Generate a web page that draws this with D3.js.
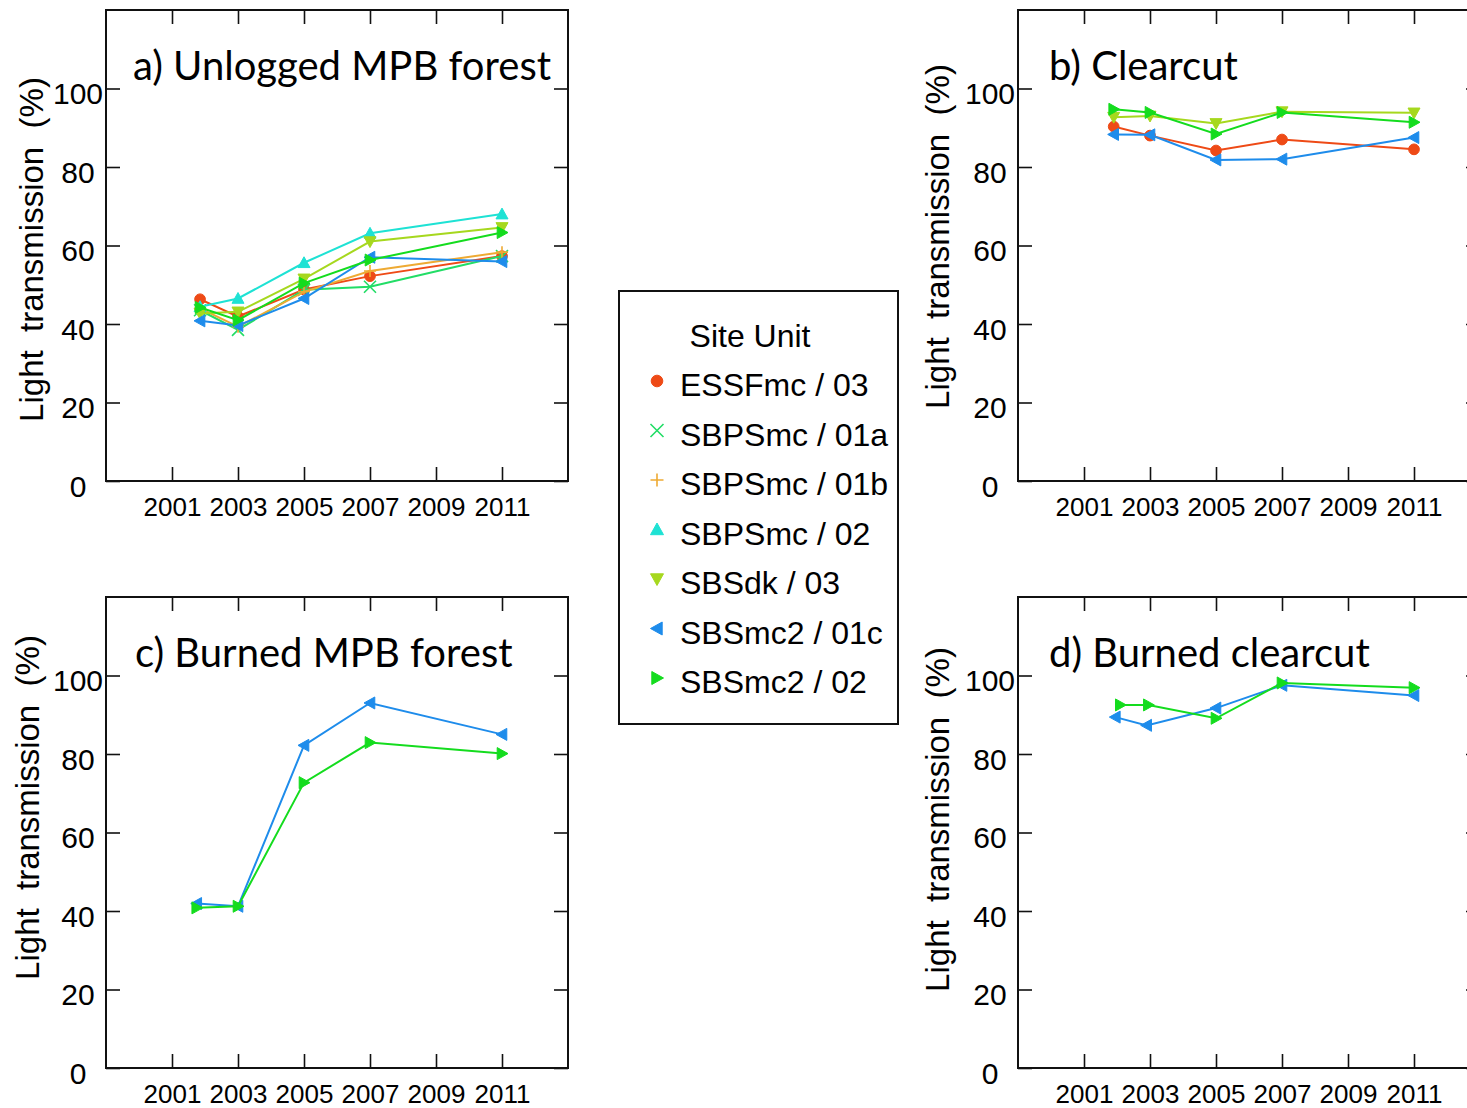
<!DOCTYPE html>
<html>
<head>
<meta charset="utf-8">
<script src="https://cdn.jsdelivr.net/npm/d3@7"></script>
<style>
  html, body { margin: 0; padding: 0; background: #fff; }
  svg { display: block; }
  text { font-family: "Liberation Sans", Arial, sans-serif; fill: #000; }
  .ptitle { font-family: Lato, "Open Sans", sans-serif; }
</style>
</head>
<body>
<svg id="chart" width="1467" height="1108"></svg>
<script>
// ---- site units (legend order), colours and marker shapes ----
const siteUnits   = ["ESSFmc / 03", "SBPSmc / 01a", "SBPSmc / 01b", "SBPSmc / 02", "SBSdk / 03", "SBSmc2 / 01c", "SBSmc2 / 02"];
const siteColors  = ["#ee4a16", "#22dd66", "#eeaa33", "#1ee2d4", "#a6d81e", "#1e8ceb", "#14dc1e"];
const siteSymbols = ["circle", "cross", "plus", "triUp", "triDown", "triLeft", "triRight"];

// ---- axis ticks ----
const yearTicks = [2001, 2003, 2005, 2007, 2009, 2011];
const lightTicks = [0, 20, 40, 60, 80, 100];

// ---- a) Unlogged MPB forest ----
const unloggedYears = [2001.85, 2003, 2005, 2007, 2011];
const unloggedUnits = ["ESSFmc / 03", "SBPSmc / 01a", "SBPSmc / 01b", "SBPSmc / 02", "SBSdk / 03", "SBSmc2 / 01c", "SBSmc2 / 02"];
const unloggedValues = [
  [46.3, 41.9, 48.8, 52.2, 57.3],
  [43.5, 38.5, 48.7, 49.5, 57.3],
  [44.0, 39.3, 48.2, 53.5, 58.3],
  [44.4, 46.5, 55.6, 63.1, 68.0],
  [42.7, 43.1, 51.5, 61.0, 64.6],
  [40.8, 39.6, 46.5, 57.0, 55.9],
  [44.2, 41.0, 50.4, 56.3, 63.3]
];

// ---- b) Clearcut ----
const clearcutYears = [2001.9, 2003, 2005, 2007, 2011];
const clearcutUnits = ["ESSFmc / 03", "SBSdk / 03", "SBSmc2 / 01c", "SBSmc2 / 02"];
const clearcutValues = [
  [90.3, 88.0, 84.2, 87.0, 84.5],
  [92.7, 93.0, 91.1, 94.1, 93.8],
  [88.3, 88.2, 81.8, 82.0, 87.5],
  [94.7, 93.9, 88.4, 93.9, 91.4]
];

// ---- c) Burned MPB forest ----
const burnedYears = [2001.75, 2003, 2005, 2007, 2011];
const burnedUnits = ["SBSmc2 / 01c", "SBSmc2 / 02"];
const burnedValues = [
  [41.9, 41.2, 82.2, 93.0, 85.0],
  [40.8, 41.2, 72.7, 82.9, 80.1]
];

// ---- d) Burned clearcut ----
const burnedClearcutYears = [[2001.95, 2002.9, 2005, 2007, 2011], [2002.1, 2002.95, 2005, 2007, 2011]];
const burnedClearcutUnits = ["SBSmc2 / 01c", "SBSmc2 / 02"];
const burnedClearcutValues = [
  [89.4, 87.3, 91.7, 97.5, 94.9],
  [92.5, 92.5, 89.1, 98.1, 96.9]
];

// ---- layout ----
const plotW = 462, plotH = 471;
const panels = [
  { title: "a) Unlogged MPB forest", left: 106, top: 10,  units: unloggedUnits, values: unloggedValues,
    years: unloggedUnits.map(() => unloggedYears), titleDx: 27, ylabDx: -75, ylabDy: 4 },
  { title: "b) Clearcut", left: 1018, top: 10, units: clearcutUnits, values: clearcutValues,
    years: clearcutUnits.map(() => clearcutYears), titleDx: 31, ylabDx: -81, ylabDy: -9 },
  { title: "c) Burned MPB forest", left: 106, top: 597, units: burnedUnits, values: burnedValues,
    years: burnedUnits.map(() => burnedYears), titleDx: 29, ylabDx: -79, ylabDy: -25 },
  { title: "d) Burned clearcut", left: 1018, top: 597, units: burnedClearcutUnits, values: burnedClearcutValues,
    years: burnedClearcutYears, titleDx: 31, ylabDx: -81, ylabDy: -13 }
];

const svg = d3.select("#chart");

// marker path generator; s = nominal marker width in px
function markerPath(kind, s) {
  const h = s / 2;
  switch (kind) {
    case "circle":   return d3.symbol(d3.symbolCircle, Math.PI * h * h * 0.8)();
    case "cross":    return `M${-h},${-h}L${h},${h}M${-h},${h}L${h},${-h}`;
    case "plus":     return `M${-h},0L${h},0M0,${-h}L0,${h}`;
    case "triUp":    return `M0,${-h}L${h},${h * 0.8}L${-h},${h * 0.8}Z`;
    case "triDown":  return `M0,${h}L${h},${-h * 0.8}L${-h},${-h * 0.8}Z`;
    case "triLeft":  return `M${-h},0L${h * 0.8},${-h}L${h * 0.8},${h}Z`;
    case "triRight": return `M${h},0L${-h * 0.8},${-h}L${-h * 0.8},${h}Z`;
  }
}
function drawMarker(sel, kind, color, s) {
  const open = kind === "cross" || kind === "plus";
  sel.append("path")
    .attr("d", markerPath(kind, s))
    .attr("fill", open ? "none" : color)
    .attr("stroke", color)
    .attr("stroke-width", open ? 1.6 : 1);
}

panels.forEach(p => {
  const x = d3.scaleLinear().domain([1999, 2013]).range([p.left, p.left + plotW]);
  const y = d3.scaleLinear().domain([0, 120]).range([p.top + plotH, p.top]);
  const g = svg.append("g");
  const tickLen = 14;

  // inward ticks on all four sides
  g.append("g").attr("transform", `translate(0,${p.top + plotH})`)
    .call(d3.axisBottom(x).tickValues(yearTicks).tickSize(-tickLen).tickFormat(d3.format("d")))
    .call(a => { a.select(".domain").remove(); a.selectAll("line").attr("stroke", "#111").attr("stroke-width", 1.6);
      a.selectAll("text").attr("y", 35).attr("dy", 0).attr("font-size", 26)
        .style("font-family", "'Liberation Sans', Arial, sans-serif").attr("fill", "#000"); });
  g.append("g").attr("transform", `translate(0,${p.top})`)
    .call(d3.axisTop(x).tickValues(yearTicks).tickSize(-tickLen).tickFormat(""))
    .call(a => { a.select(".domain").remove(); a.selectAll("line").attr("stroke", "#111").attr("stroke-width", 1.6); });
  g.append("g").attr("transform", `translate(${p.left},0)`)
    .call(d3.axisLeft(y).tickValues(lightTicks).tickSize(-tickLen).tickFormat(d3.format("d")))
    .call(a => { a.select(".domain").remove(); a.selectAll("line").attr("stroke", "#111").attr("stroke-width", 1.6);
      a.selectAll("text").attr("x", -28).attr("dy", 15).attr("text-anchor", "middle").attr("font-size", 30)
        .style("font-family", "'Liberation Sans', Arial, sans-serif").attr("fill", "#000"); });
  g.append("g").attr("transform", `translate(${p.left + plotW},0)`)
    .call(d3.axisRight(y).tickValues(lightTicks).tickSize(-tickLen).tickFormat(""))
    .call(a => { a.select(".domain").remove(); a.selectAll("line").attr("stroke", "#111").attr("stroke-width", 1.6); });

  // frame
  g.append("rect").attr("x", p.left).attr("y", p.top).attr("width", plotW).attr("height", plotH)
    .attr("fill", "none").attr("stroke", "#111").attr("stroke-width", 2);

  // panel title
  g.append("text").attr("class", "ptitle")
    .attr("x", p.left + p.titleDx).attr("y", p.top + 70)
    .attr("font-size", 40).text(p.title);

  // y axis title
  const cx = p.left + p.ylabDx, cy = p.top + plotH / 2 + p.ylabDy;
  g.append("text")
    .attr("transform", `translate(${cx},${cy}) rotate(-90)`)
    .attr("text-anchor", "middle").attr("dy", "0.35em")
    .attr("font-size", 33).style("white-space", "pre")
    .text("Light  transmission  (%)");

  // series
  const line = d3.line().x(d => x(d[0])).y(d => y(d[1]));
  p.units.forEach((u, i) => {
    const k = siteUnits.indexOf(u);
    const pts = p.values[i].map((v, j) => [p.years[i][j], v]);
    g.append("path").datum(pts).attr("d", line)
      .attr("fill", "none").attr("stroke", siteColors[k]).attr("stroke-width", 2);
    pts.forEach(d => {
      const m = g.append("g").attr("transform", `translate(${x(d[0])},${y(d[1])})`);
      drawMarker(m, siteSymbols[k], siteColors[k], 12);
    });
  });
});

// ---- legend ----
const lg = svg.append("g");
lg.append("rect").attr("x", 619).attr("y", 291).attr("width", 279).attr("height", 433)
  .attr("fill", "#fff").attr("stroke", "#111").attr("stroke-width", 2);
lg.append("text").attr("x", 750).attr("y", 347).attr("text-anchor", "middle")
  .attr("font-size", 32).text("Site Unit");
const rowY = d3.scaleLinear().domain([0, siteUnits.length - 1]).range([385, 682]);
siteUnits.forEach((u, i) => {
  const m = lg.append("g").attr("transform", `translate(657,${rowY(i) - 4})`);
  drawMarker(m, siteSymbols[i], siteColors[i], 13);
  lg.append("text").attr("x", 680).attr("y", rowY(i) + 11).attr("font-size", 32).text(u);
});
</script>
</body>
</html>
